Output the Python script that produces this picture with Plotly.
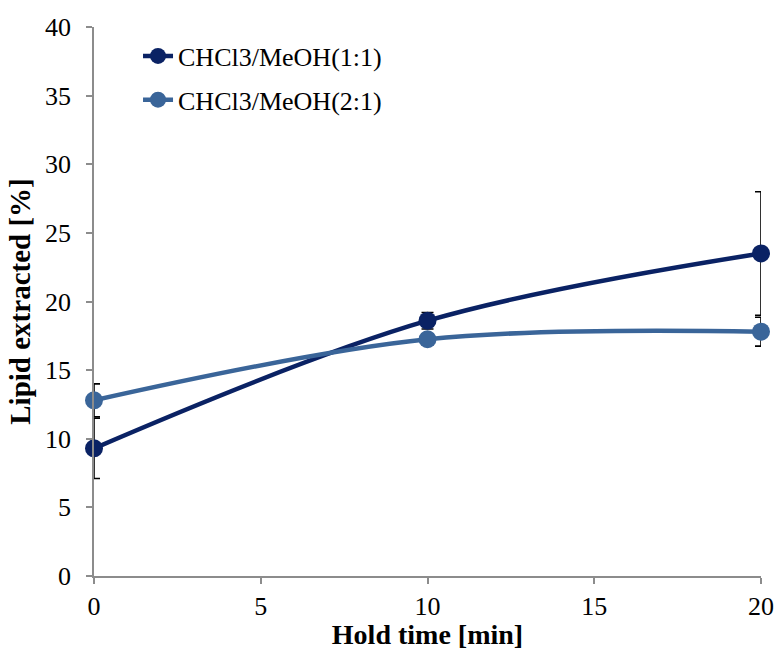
import plotly.graph_objects as go

# Hold time (min) and lipid yield (%) for two solvent ratios
hold_time = [0, 10, 20]
ratio_1_1 = [9.3, 18.6, 23.5]
ratio_1_1_err = [2.2, 0.6, 4.5]
ratio_2_1 = [12.8, 17.25, 17.8]
ratio_2_1_err = [1.2, 0.4, 1.05]

names = ["CHCl3/MeOH(1:1)", "CHCl3/MeOH(2:1)"]
colors = ["#0a2264", "#3a6599"]

fig = go.Figure()
for i, (y, err) in enumerate([(ratio_1_1, ratio_1_1_err), (ratio_2_1, ratio_2_1_err)]):
    fig.add_trace(go.Scatter(
        x=hold_time, y=y, name=names[i], legendgroup=f"g{i}",
        mode="lines+markers", cliponaxis=False,
        line=dict(color=colors[i], width=4.5, shape="spline", smoothing=1.0),
        marker=dict(color=colors[i], size=18),
        error_y=dict(type="data", array=err, visible=True,
                     color="black", thickness=1.6, width=6),
    ))

font_family = '"Liberation Serif", "Times New Roman", serif'
axis_common = dict(
    showgrid=False, zeroline=False, showline=True, automargin=False,
    linecolor="#8c8c8c", linewidth=1.5,
    ticks="outside", tickcolor="#8c8c8c", ticklen=6, tickwidth=1.5,
    tickfont=dict(family=font_family, size=26, color="black"),
)

fig.update_layout(
    width=776, height=650,
    margin=dict(l=94, r=15, t=27, b=74),
    plot_bgcolor="white", paper_bgcolor="white",
    font=dict(family=font_family, color="black"),
    xaxis=dict(range=[0, 20], tickvals=[0, 5, 10, 15, 20], **axis_common,
               ticklabelstandoff=0,
               title=dict(text="<b>Hold time [min]</b>",
                          font=dict(family=font_family, size=28), standoff=14)),
    yaxis=dict(range=[0, 40], tickvals=list(range(0, 41, 5)), **axis_common,
               ticklabelstandoff=10,
               title=dict(text="<b>Lipid extracted [%]</b>",
                          font=dict(family=font_family, size=29), standoff=6)),
    legend=dict(x=0.066, y=0.99, xanchor="left", yanchor="top",
                font=dict(family=font_family, size=26),
                traceorder="grouped", tracegroupgap=7,
                bgcolor="rgba(0,0,0,0)"),
)

fig.write_html("out.html")
